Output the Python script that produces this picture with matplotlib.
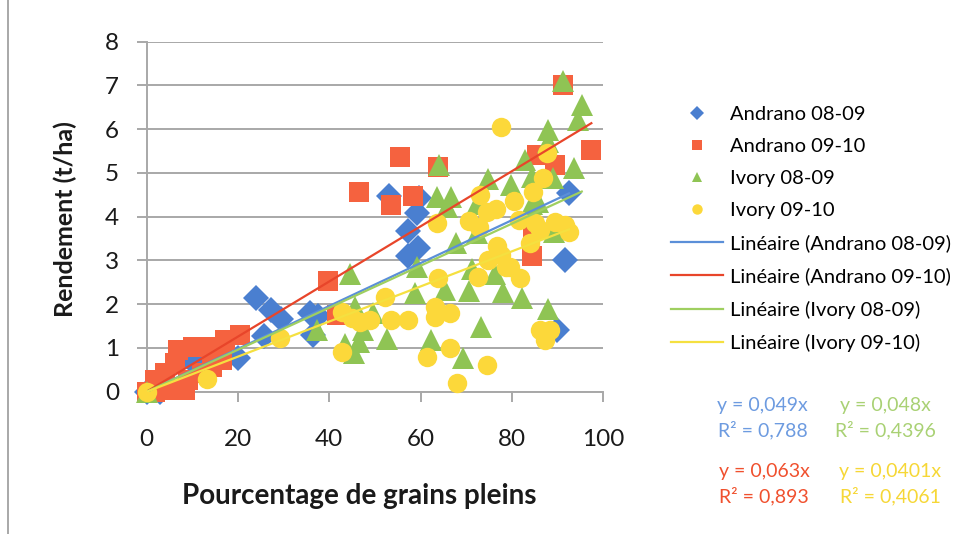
import matplotlib
matplotlib.use("Agg")
import matplotlib.pyplot as plt
from matplotlib.lines import Line2D
import numpy as np

plt.rcParams['font.family'] = ['Lato', 'DejaVu Sans']

# Rendement vs pourcentage de grains pleins, par variete et campagne
andrano_0809_x = [0, 3, 10, 12, 20, 24, 25.6, 27.2, 29.4, 35.8, 36.5, 37.6,
                  53, 57.3, 57.3, 59.1, 59.5, 59.6, 89.8, 91.6, 92.5]
andrano_0809_y = [0, 0, 0.7, 0.8, 0.78, 2.15, 1.28, 1.86, 1.65, 1.8, 1.3, 1.72,
                  4.47, 3.68, 3.1, 4.08, 3.28, 4.42, 1.4, 3.0, 4.53]

andrano_0910_x = [0, 1.8, 1.8, 4, 4.7, 6.2, 6.9, 8.4, 9.1, 10.2, 12, 14.2,
                  14.2, 16.4, 17.1, 20.4, 39.8, 41.6, 46.4, 53.6, 55.5, 58.4,
                  63.9, 84.3, 84.7, 85.4, 89.4, 91.2, 97.4]
andrano_0910_y = [0, 0.27, 0, 0.42, 0.04, 0.65, 0.95, 0.04, 0.27, 1.03, 0.42, 1.03,
                  0.57, 0.72, 1.18, 1.3, 2.52, 1.75, 4.57, 4.27, 5.37, 4.47,
                  5.14, 3.1, 3.72, 5.42, 5.18, 7.0, 5.52]

ivory_0809_x = [0, 37.2, 43.4, 44.5, 45.3, 45.6, 46.4, 47.4, 49.6, 52.6, 58.7,
                59.1, 62.2, 63.5, 64.0, 65.3, 65.8, 66.6, 67.7, 69.2, 70.6,
                71.2, 72.3, 72.3, 73.2, 74.7, 76.3, 78.1, 79.9, 82.1, 82.8,
                84.3, 84.3, 85.7, 87.9, 87.9, 87.9, 89.0, 89.2, 91.2, 93.6,
                94.5, 95.3]
ivory_0809_y = [0, 1.41, 1.1, 2.7, 0.88, 1.94, 1.14, 1.41, 1.79, 1.2, 2.25,
                2.86, 1.18, 4.46, 5.18, 2.32, 4.23, 4.44, 3.4, 0.76, 2.29,
                2.8, 4.3, 3.62, 1.47, 4.86, 2.7, 2.27, 4.72, 2.15, 5.3,
                4.9, 4.3, 4.34, 5.98, 5.7, 1.9, 4.88, 3.66, 7.1, 5.12,
                6.22, 6.55]

ivory_0910_x = [0, 13.1, 29.2, 42.7, 42.7, 44.9, 46.7, 48.9, 52.2, 53.6,
                57.3, 61.3, 63.1, 63.1, 63.5, 63.9, 66.4, 66.4, 67.9, 70.6,
                72.6, 72.8, 73.0, 74.5, 74.5, 74.8, 76.6, 76.8, 77.7, 77.7,
                78.8, 79.6, 80.5, 81.5, 81.7, 83.9, 84.7, 85.0, 86.1, 86.1,
                86.8, 87.2, 87.6, 88.3, 89.4, 91.6, 92.5]
ivory_0910_y = [0, 0.3, 1.22, 1.83, 0.91, 1.68, 1.6, 1.64, 2.17, 1.64,
                1.64, 0.8, 1.94, 1.71, 3.85, 2.59, 1.79, 0.99, 0.19, 3.89,
                2.63, 3.77, 4.5, 4.11, 0.61, 3.0, 4.18, 3.33, 3.12, 6.06,
                2.86, 2.86, 4.36, 3.92, 2.59, 3.39, 4.57, 3.85, 3.7, 1.41,
                4.88, 1.18, 5.45, 1.41, 3.87, 3.82, 3.66]

# pentes des droites de tendance (passant par l'origine) et R2
slopes = ["0,049", "0,063", "0,048", "0,0401"]
r2 = ["0,788", "0,893", "0,4396", "0,4061"]
names = ["Andrano 08-09", "Andrano 09-10", "Ivory 08-09", "Ivory 09-10"]

series = [(andrano_0809_x, andrano_0809_y), (andrano_0910_x, andrano_0910_y),
          (ivory_0809_x, ivory_0809_y), (ivory_0910_x, ivory_0910_y)]
markers = ['D', 's', '^', 'o']
msizes = [13, 14, 16, 14]
colors = ['#4a7fd0', '#f5623f', '#8fc454', '#fcd83a']
line_colors = ['#5b8fd8', '#e8452a', '#9fcf60', '#f5e040']
eq_colors = ['#6d9be0', '#f0502e', '#a9d174', '#f6d736']

fig = plt.figure(figsize=(9.59, 5.34), dpi=100)
ax = fig.add_axes([0.153, 0.2665, 0.476, 0.6555])

for (xs, ys), m, ms, c in zip(series, markers, msizes, colors):
  ax.plot(xs, ys, linestyle='none', marker=m, markersize=ms, color=c,
          markeredgewidth=0, clip_on=False, zorder=3)

for (xs, ys), s, c in zip(series, slopes, line_colors):
  k = float(s.replace(',', '.'))
  xl = np.array([min(xs), max(xs)])
  ax.plot(xl, k * xl, color=c, lw=1.6, zorder=4)

ax.set_xlim(0, 100)
ax.set_ylim(0, 8)
ax.set_xticks(np.arange(0, 101, 20))
ax.set_yticks(np.arange(0, 9, 1))
ax.grid(axis='y', color='#a8a8a8', lw=1.4)
ax.set_axisbelow(True)
for side in ['top', 'right']:
  ax.spines[side].set_visible(False)
for side in ['left', 'bottom']:
  ax.spines[side].set_color('#a8a8a8')
  ax.spines[side].set_linewidth(1.4)
ax.tick_params(axis='both', colors='#a8a8a8', length=7, width=1.4,
               labelcolor='#1a1a1a', labelsize=17.5)
ax.tick_params(axis='y', pad=13)
ax.tick_params(axis='x', pad=20)

ax.set_xlabel('Pourcentage de grains pleins', fontsize=20, fontweight='bold',
              color='#1a1a1a')
ax.xaxis.set_label_coords(0.465, -0.262)
ax.set_ylabel('Rendement (t/ha)', fontsize=18, fontweight='bold',
              color='#1a1a1a')
ax.yaxis.set_label_coords(-0.152, 0.493)

handles = []
for m, c in zip(markers, colors):
  handles.append(Line2D([], [], linestyle='none', marker=m, markersize=7.5,
                        color=c, markeredgewidth=0))
for c in line_colors:
  handles.append(Line2D([], [], color=c, lw=1.6))
labels = names + ['Linéaire ({})'.format(n) for n in names]
fig.legend(handles, labels, loc='upper left', bbox_to_anchor=(0.6997, 0.802),
           frameon=False, fontsize=14.5, handlelength=2.6, handletextpad=0.35,
           labelspacing=0.75, borderaxespad=0, borderpad=0)

# equations des droites de tendance
eq_pos = [(0.795, 0.217), (0.797, 0.093), (0.923, 0.217), (0.928, 0.093)]
for (px, py), s, r, c in zip(eq_pos, slopes, r2, eq_colors):
  fig.text(px, py, 'y = {}x\nR² = {}'.format(s, r), color=c, fontsize=14,
           ha='center', va='center', linespacing=1.45)

fig.add_artist(Line2D([0.008, 0.008], [0, 1], color='#9a9a9a', lw=1.2))

fig.savefig('out.png', dpi=100)
